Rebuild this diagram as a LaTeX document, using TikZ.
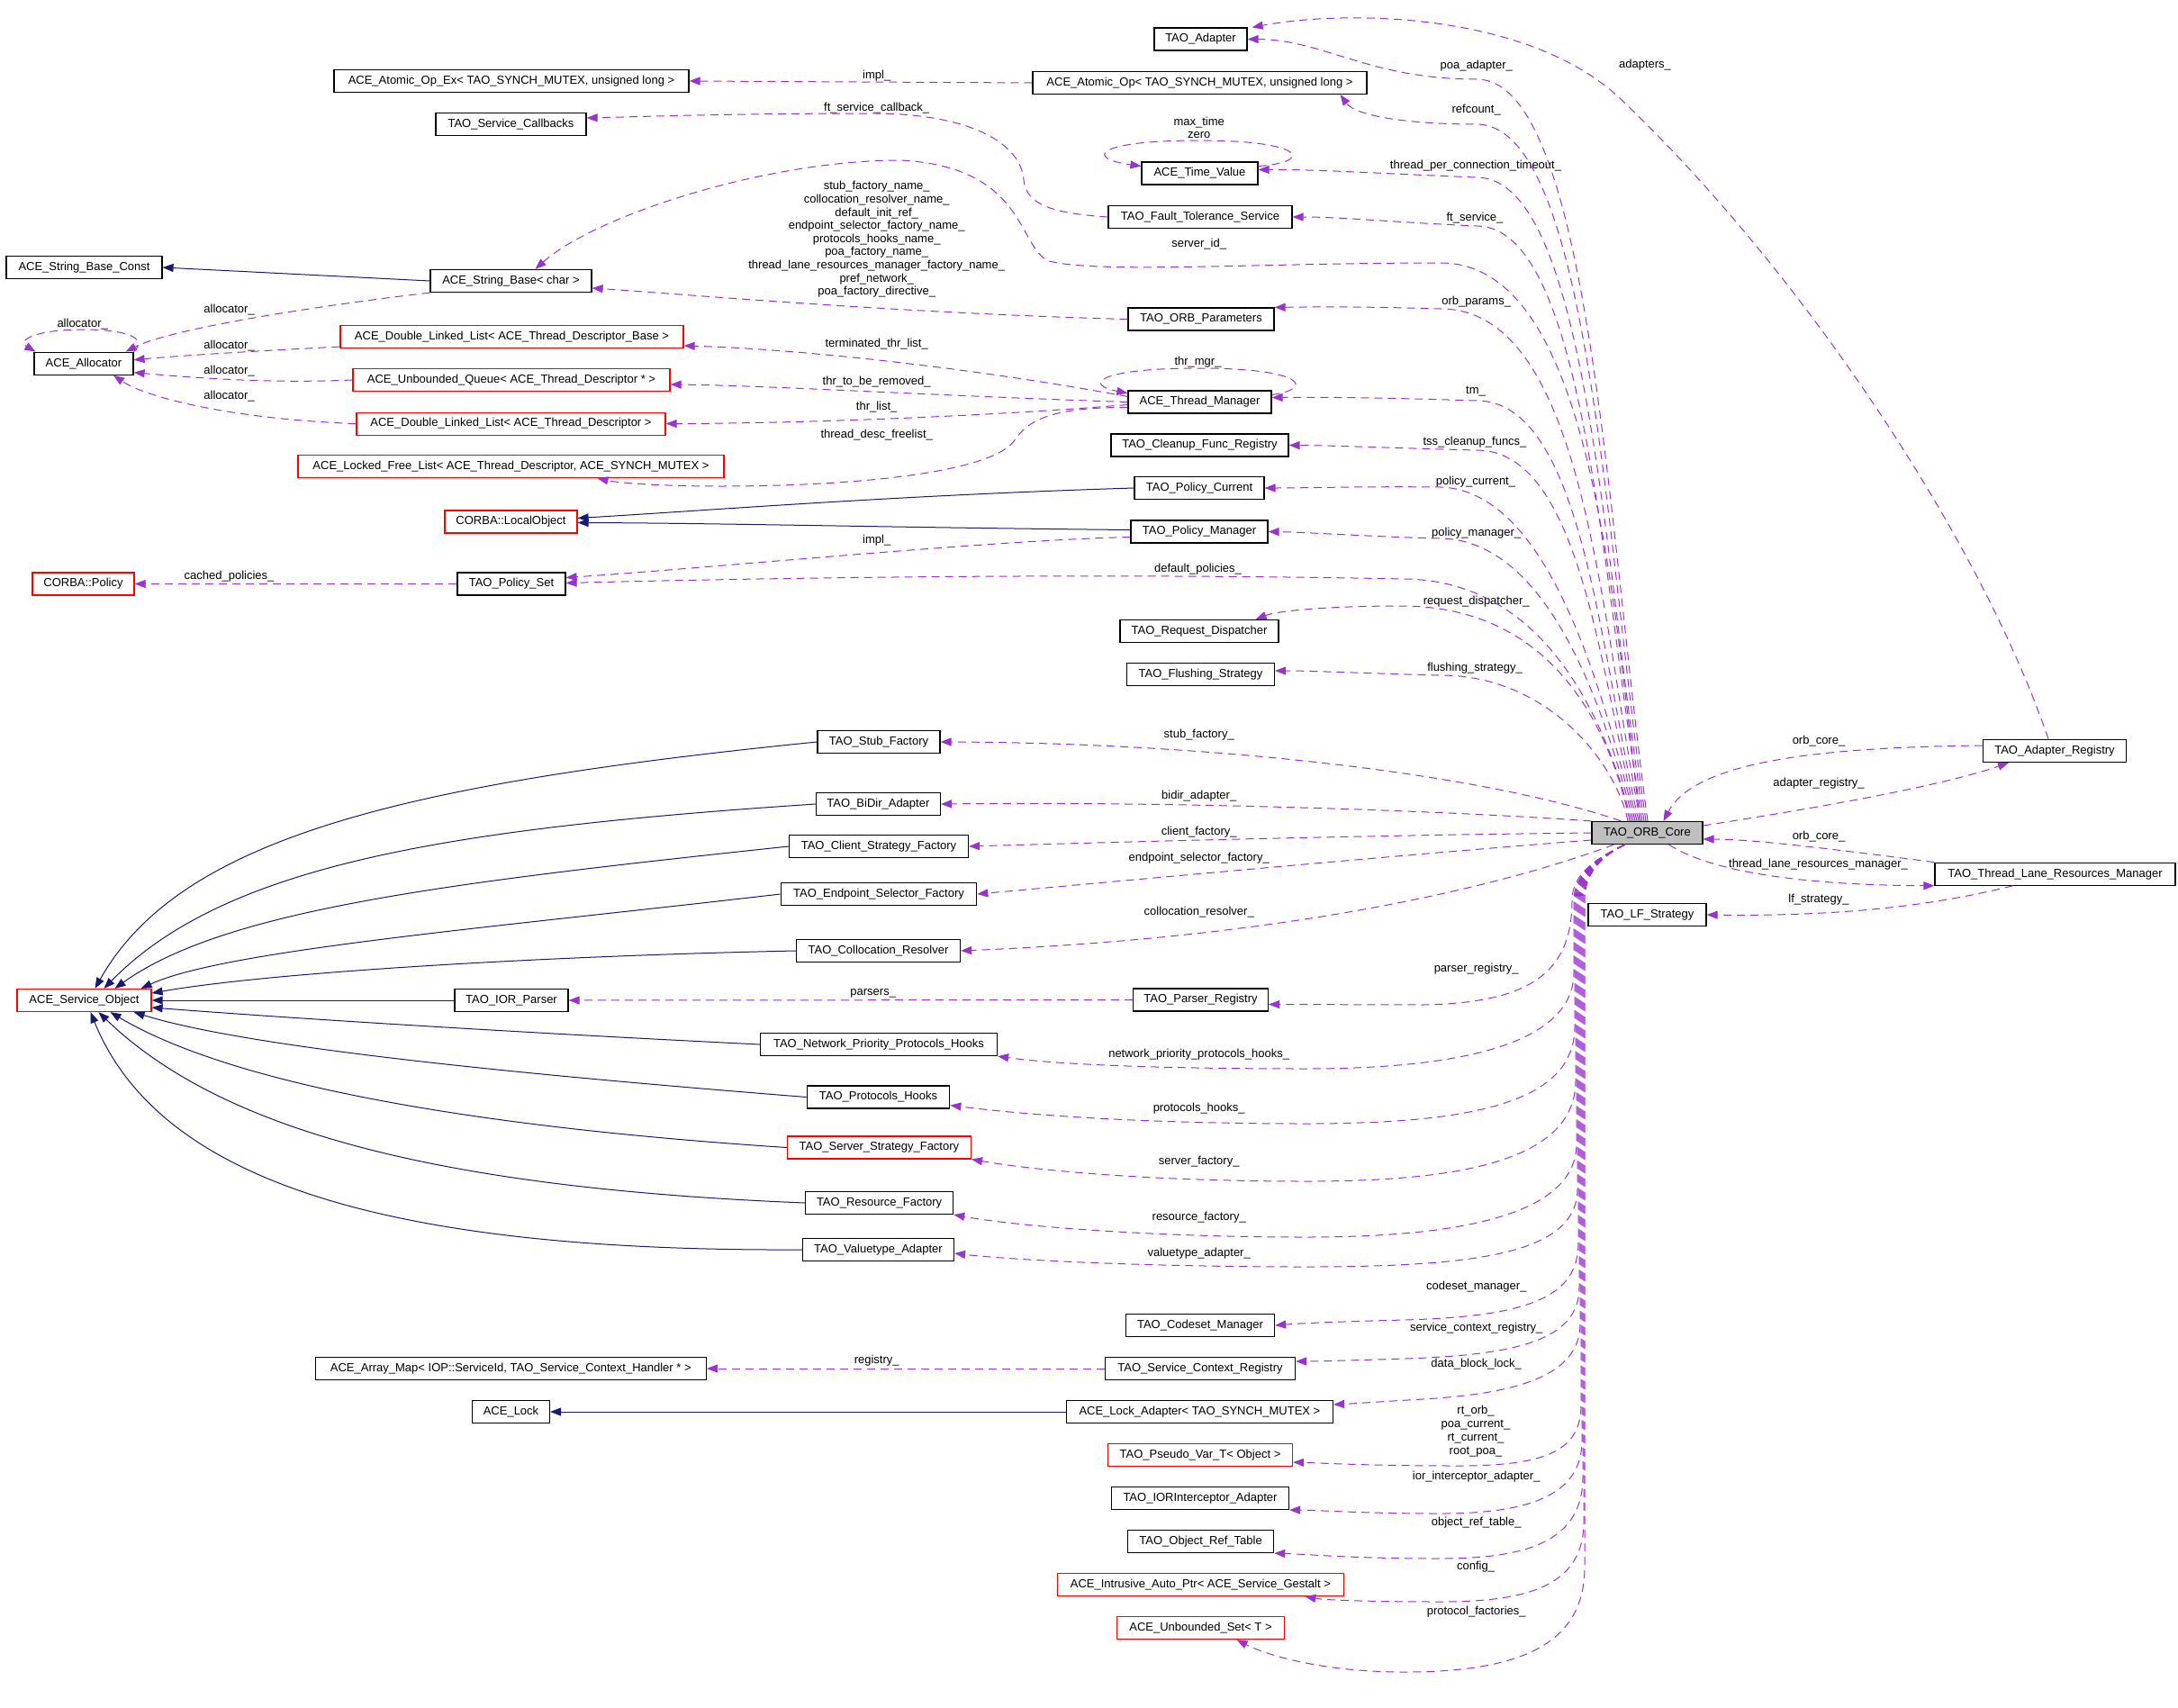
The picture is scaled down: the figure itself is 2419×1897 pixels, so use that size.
\documentclass[tikz,border=0pt]{standalone}
\usepackage{fontspec}
\setmainfont{Liberation Sans}
\usetikzlibrary{arrows.meta,calc}
\definecolor{dpurple}{RGB}{154,50,205}
\definecolor{navyblue}{RGB}{25,25,112}
\definecolor{grayfill}{RGB}{191,191,191}
\tikzset{
 box/.style={draw=black, line width=1.2pt, minimum height=25pt, inner xsep=3pt, inner ysep=0pt, fill=white},
 redbox/.style={box, draw=red},
 lbl/.style={inner sep=0pt, align=center},
 usesedge/.style={draw=dpurple, line width=1pt, dash pattern=on 9pt off 6pt, -{Triangle[length=12pt,width=9pt]}},
 inhedge/.style={draw=navyblue, line width=1pt, -{Triangle[length=12pt,width=9pt]}}
}
\begin{document}
\begin{tikzpicture}[x=1pt,y=-1pt,font=\fontsize{13}{14.6}\selectfont]
\path[use as bounding box, fill=white] (0,0) rectangle (2419,1897);
% ---------------- nodes
\node[box, minimum width=103pt] (adapter) at (1333.5,43.5) {TAO\_Adapter};
\node[box, minimum width=394pt] (atomicex) at (568,90) {ACE\_Atomic\_Op\_Ex< TAO\_SYNCH\_MUTEX, unsigned long >};
\node[box, minimum width=371pt] (atomic) at (1332.5,92) {ACE\_Atomic\_Op< TAO\_SYNCH\_MUTEX, unsigned long >};
\node[box, minimum width=167pt] (svccb) at (567.5,138) {TAO\_Service\_Callbacks};
\node[box, minimum width=129pt] (timeval) at (1332.5,192.5) {ACE\_Time\_Value};
\node[box, minimum width=204pt] (fts) at (1333,241) {TAO\_Fault\_Tolerance\_Service};
\node[box, minimum width=173pt] (sbconst) at (93.5,297) {ACE\_String\_Base\_Const};
\node[box, minimum width=179pt] (sbchar) at (567.5,312) {ACE\_String\_Base< char >};
\node[box, minimum width=162pt] (orbparams) at (1334,354.5) {TAO\_ORB\_Parameters};
\node[box, minimum width=110pt] (allocator) at (93,403.7) {ACE\_Allocator};
\node[redbox, minimum width=381pt] (dllbase) at (568.5,374) {ACE\_Double\_Linked\_List< ACE\_Thread\_Descriptor\_Base >};
\node[redbox, minimum width=352pt] (ubq) at (568,422) {ACE\_Unbounded\_Queue< ACE\_Thread\_Descriptor * >};
\node[box, minimum width=159pt] (thrmgr) at (1332.5,446.5) {ACE\_Thread\_Manager};
\node[redbox, minimum width=343pt] (dlldesc) at (567.5,470.6) {ACE\_Double\_Linked\_List< ACE\_Thread\_Descriptor >};
\node[box, minimum width=197pt] (cleanup) at (1332.5,494.5) {TAO\_Cleanup\_Func\_Registry};
\node[redbox, minimum width=473pt] (lfl) at (567.5,518) {ACE\_Locked\_Free\_List< ACE\_Thread\_Descriptor, ACE\_SYNCH\_MUTEX >};
\node[box, minimum width=144pt] (polcur) at (1332,542) {TAO\_Policy\_Current};
\node[redbox, minimum width=147pt] (localobj) at (567.5,579.5) {CORBA::LocalObject};
\node[box, minimum width=152pt] (polmgr) at (1332,590.5) {TAO\_Policy\_Manager};
\node[redbox, minimum width=113pt] (corbapol) at (92.5,648.5) {CORBA::Policy};
\node[box, minimum width=120pt] (polset) at (568,648.5) {TAO\_Policy\_Set};
\node[box, minimum width=176pt] (reqdisp) at (1332,701) {TAO\_Request\_Dispatcher};
\node[box, minimum width=164pt] (flush) at (1333.5,749) {TAO\_Flushing\_Strategy};
\node[box, minimum width=136pt] (stub) at (976,824) {TAO\_Stub\_Factory};
\node[box, minimum width=159pt] (adreg) at (2282,834) {TAO\_Adapter\_Registry};
\node[box, minimum width=138pt] (bidir) at (975.4,893) {TAO\_BiDir\_Adapter};
\node[box, fill=grayfill, minimum width=123pt] (core) at (1829.5,925) {TAO\_ORB\_Core};
\node[box, minimum width=199pt] (client) at (976,940) {TAO\_Client\_Strategy\_Factory};
\node[box, minimum width=267pt] (tlrm) at (2282.5,970.7) {TAO\_Thread\_Lane\_Resources\_Manager};
\node[box, minimum width=217.5pt] (endpoint) at (976,993) {TAO\_Endpoint\_Selector\_Factory};
\node[box, minimum width=131pt] (lf) at (1829.5,1016) {TAO\_LF\_Strategy};
\node[box, minimum width=182pt] (colloc) at (975.5,1056) {TAO\_Collocation\_Resolver};
\node[redbox, minimum width=149pt] (svcobj) at (93.5,1111) {ACE\_Service\_Object};
\node[box, minimum width=126pt] (iorparser) at (568,1111) {TAO\_IOR\_Parser};
\node[box, minimum width=150pt] (parsereg) at (1333.5,1110.5) {TAO\_Parser\_Registry};
\node[box, minimum width=263pt] (npph) at (976,1160) {TAO\_Network\_Priority\_Protocols\_Hooks};
\node[box, minimum width=158.5pt] (phooks) at (975.5,1218.5) {TAO\_Protocols\_Hooks};
\node[redbox, minimum width=204pt] (ssf) at (976.4,1274.5) {TAO\_Server\_Strategy\_Factory};
\node[box, minimum width=164pt] (resfac) at (976.6,1336) {TAO\_Resource\_Factory};
\node[box, minimum width=168pt] (vta) at (975.5,1388) {TAO\_Valuetype\_Adapter};
\node[box, minimum width=165pt] (codeset) at (1333,1472) {TAO\_Codeset\_Manager};
\node[box, minimum width=434pt] (arraymap) at (567.3,1520) {ACE\_Array\_Map< IOP::ServiceId, TAO\_Service\_Context\_Handler * >};
\node[box, minimum width=211pt] (scr) at (1333,1520) {TAO\_Service\_Context\_Registry};
\node[box, minimum width=86pt] (lock) at (567.5,1568) {ACE\_Lock};
\node[box, minimum width=296pt] (lockad) at (1332.4,1568) {ACE\_Lock\_Adapter< TAO\_SYNCH\_MUTEX >};
\node[redbox, minimum width=205pt] (pseudo) at (1333,1616) {TAO\_Pseudo\_Var\_T< Object >};
\node[box, minimum width=197pt] (iorint) at (1333,1664) {TAO\_IORInterceptor\_Adapter};
\node[box, minimum width=162pt] (objref) at (1333.6,1712) {TAO\_Object\_Ref\_Table};
\node[redbox, minimum width=318pt] (intrusive) at (1333.4,1760) {ACE\_Intrusive\_Auto\_Ptr< ACE\_Service\_Gestalt >};
\node[redbox, minimum width=186pt] (ubset) at (1333.5,1808) {ACE\_Unbounded\_Set< T >};
% ---------------- labels
\node[lbl] (t1) at (973.7,83.7) {impl\_};
\node[lbl] (t2) at (973.7,120.4) {ft\_service\_callback\_};
\node[lbl] (t3) at (973.7,266) {stub\_factory\_name\_\\collocation\_resolver\_name\_\\default\_init\_ref\_\\endpoint\_selector\_factory\_name\_\\protocols\_hooks\_name\_\\poa\_factory\_name\_\\thread\_lane\_resources\_manager\_factory\_name\_\\pref\_network\_\\poa\_factory\_directive\_};
\node[lbl] (t4) at (1639.7,72.7) {poa\_adapter\_};
\node[lbl] (t5) at (1639.7,122.4) {refcount\_};
\node[lbl] (t6) at (1331.7,142) {max\_time\\zero};
\node[lbl] (t7) at (1639,183.7) {thread\_per\_connection\_timeout\_};
\node[lbl] (t8) at (1638,242.4) {ft\_service\_};
\node[lbl] (t9) at (1331.7,271.4) {server\_id\_};
\node[lbl] (t10) at (1639.7,335.5) {orb\_params\_};
\node[lbl] (t11) at (91.7,359.6) {allocator\_};
\node[lbl] (t12) at (254.6,344) {allocator\_};
\node[lbl] (t13) at (254.6,383.7) {allocator\_};
\node[lbl] (t14) at (254.6,412) {allocator\_};
\node[lbl] (t15) at (254.6,439.6) {allocator\_};
\node[lbl] (t16) at (973.7,382.4) {terminated\_thr\_list\_};
\node[lbl] (t17) at (973.7,424.5) {thr\_to\_be\_removed\_};
\node[lbl] (t18) at (973.7,452) {thr\_list\_};
\node[lbl] (t19) at (973.7,483) {thread\_desc\_freelist\_};
\node[lbl] (t20) at (1330.5,402.4) {thr\_mgr\_};
\node[lbl] (t21) at (1639,435) {tm\_};
\node[lbl] (t22) at (1638,491.4) {tss\_cleanup\_funcs\_};
\node[lbl] (t23) at (1639,534.7) {policy\_current\_};
\node[lbl] (t24) at (1639.7,591.8) {policy\_manager\_};
\node[lbl] (t25) at (973.7,600.4) {impl\_};
\node[lbl] (t26) at (1330.5,632) {default\_policies\_};
\node[lbl] (t27) at (254.6,640.4) {cached\_policies\_};
\node[lbl] (t28) at (1639.7,668.6) {request\_dispatcher\_};
\node[lbl] (t29) at (1638,742.4) {flushing\_strategy\_};
\node[lbl] (t30) at (1827,72.4) {adapters\_};
\node[lbl] (t31) at (1331.7,816.3) {stub\_factory\_};
\node[lbl] (t32) at (2020,823.3) {orb\_core\_};
\node[lbl] (t33) at (2020,870.6) {adapter\_registry\_};
\node[lbl] (t34) at (1331.7,884.5) {bidir\_adapter\_};
\node[lbl] (t35) at (1331.7,924.5) {client\_factory\_};
\node[lbl] (t36) at (2020,928.6) {orb\_core\_};
\node[lbl] (t37) at (1331.7,952.7) {endpoint\_selector\_factory\_};
\node[lbl] (t38) at (2019.5,960.4) {thread\_lane\_resources\_manager\_};
\node[lbl] (t39) at (2020,999.6) {lf\_strategy\_};
\node[lbl] (t40) at (1331.7,1012.6) {collocation\_resolver\_};
\node[lbl] (t41) at (1639.7,1076) {parser\_registry\_};
\node[lbl] (t42) at (969.7,1102.9) {parsers\_};
\node[lbl] (t43) at (1331.7,1171.4) {network\_priority\_protocols\_hooks\_};
\node[lbl] (t44) at (1331.7,1231) {protocols\_hooks\_};
\node[lbl] (t45) at (1331.7,1290.4) {server\_factory\_};
\node[lbl] (t46) at (1331.7,1352.3) {resource\_factory\_};
\node[lbl] (t47) at (1331.7,1392.4) {valuetype\_adapter\_};
\node[lbl] (t48) at (1639.7,1428.7) {codeset\_manager\_};
\node[lbl] (t49) at (1639.7,1475.3) {service\_context\_registry\_};
\node[lbl] (t50) at (1639.7,1515.3) {data\_block\_lock\_};
\node[lbl] (t51) at (973.7,1510.8) {registry\_};
\node[lbl, font=\fontsize{13}{14.9}\selectfont] (t52) at (1639,1589.6) {rt\_orb\_\\poa\_current\_\\rt\_current\_\\root\_poa\_};
\node[lbl] (t53) at (1639.7,1640.3) {ior\_interceptor\_adapter\_};
\node[lbl] (t54) at (1639.7,1691.5) {object\_ref\_table\_};
\node[lbl] (t55) at (1639,1740.6) {config\_};
\node[lbl] (t56) at (1639.7,1790.5) {protocol\_factories\_};
% ---------------- inheritance
\draw[inhedge] (sbchar.west) -- (sbconst.east);
\draw[inhedge] (polcur.west) .. controls (1000,550) and (800,566) .. ($(localobj.east)+(0,-4)$);
\draw[inhedge] ($(polmgr.west)+(0,-2)$) .. controls (1000,586) and (800,581) .. ($(localobj.east)+(0,1)$);
\draw[inhedge] (lockad.west) -- (lock.east);
\draw[inhedge] (stub.west) .. controls (450,870) and (200,930) .. ($(svcobj.north)+(12,0)$);
\draw[inhedge] (bidir.west) .. controls (500,920) and (250,960) .. ($(svcobj.north)+(22,0)$);
\draw[inhedge] (client.west) .. controls (500,980) and (250,1010) .. ($(svcobj.north)+(34,0)$);
\draw[inhedge] (endpoint.west) .. controls (550,1030) and (250,1055) .. ($(svcobj.north east)+(-12,0)$);
\draw[inhedge] (colloc.west) .. controls (600,1062) and (300,1080) .. ($(svcobj.east)+(0,-8)$);
\draw[inhedge] (iorparser.west) -- (svcobj.east);
\draw[inhedge] (npph.west) .. controls (600,1148) and (350,1133) .. ($(svcobj.east)+(0,8)$);
\draw[inhedge] (phooks.west) .. controls (600,1195) and (280,1165) .. ($(svcobj.south east)+(-20,0)$);
\draw[inhedge] (ssf.west) .. controls (500,1250) and (250,1200) .. ($(svcobj.south)+(29,0)$);
\draw[inhedge] (resfac.west) .. controls (500,1320) and (250,1260) .. ($(svcobj.south)+(16,0)$);
\draw[inhedge] (vta.west) .. controls (450,1390) and (180,1320) .. ($(svcobj.south)+(7,0)$);
% ---------------- usage, left part
\draw[usesedge] (atomic.west) -- (atomicex.east);
\draw[usesedge] (fts.west) .. controls (1170,237) and (1140,228) .. (1137,200) .. controls (1134,160) and (1080,127) .. (973,126) .. controls (800,126) and (700,130) .. ($(svccb.east)+(0,-7)$);
\draw[usesedge] ($(timeval.east)+(0,-8)$) .. controls (1460,180) and (1450,156) .. (1332,156) .. controls (1215,156) and (1205,176) .. ($(timeval.west)+(0,-8)$);
\draw[usesedge] (orbparams.west) .. controls (1000,348) and (750,326) .. ($(sbchar.east)+(0,8)$);
\draw[usesedge] (sbchar.south west) .. controls (350,340) and (190,365) .. ($(allocator.north east)+(-9,0)$);
\draw[usesedge] (allocator.north east) .. controls (165,375) and (140,366) .. (92,366) .. controls (40,366) and (18,378) .. ($(allocator.north west)+(2,0)$);
\draw[usesedge] ($(dllbase.south west)+(0,-2)$) .. controls (280,390) and (200,395) .. ($(allocator.east)+(0,-4)$);
\draw[usesedge] (ubq.west) .. controls (300,426) and (220,420) .. ($(allocator.east)+(0,10)$);
\draw[usesedge] (dlldesc.west) .. controls (250,465) and (160,440) .. ($(allocator.south)+(33,0)$);
\draw[usesedge] ($(thrmgr.west)+(0,-6)$) .. controls (1100,412) and (900,388) .. ($(dllbase.east)+(0,10)$);
\draw[usesedge] (thrmgr.west) .. controls (1050,440) and (850,428) .. ($(ubq.east)+(0,5)$);
\draw[usesedge] ($(thrmgr.west)+(0,3)$) .. controls (1100,462) and (900,470) .. (dlldesc.east);
\draw[usesedge] ($(thrmgr.west)+(0,6)$) .. controls (1160,452) and (1140,470) .. (1126,490) .. controls (1100,525) and (950,540) .. (800,540) .. controls (720,540) and (680,535) .. ($(lfl.south)+(96,0)$);
\draw[usesedge] ($(thrmgr.east)+(0,-8)$) .. controls (1460,432) and (1450,409) .. (1332,409) .. controls (1215,409) and (1205,428) .. ($(thrmgr.west)+(0,-10)$);
\draw[usesedge] ($(polmgr.west)+(0,6)$) .. controls (1100,600) and (800,630) .. ($(polset.east)+(0,-7)$);
\draw[usesedge] (polset.west) -- (corbapol.east);
\draw[usesedge] (parsereg.west) -- (iorparser.east);
\draw[usesedge] (scr.west) -- (arraymap.east);
% ---------------- usage from core, upward
\draw[usesedge] ($(core.north)+(0.5,0)$) .. controls (1785,583) and (1765,88) .. (1640,88) .. controls (1520,88) and (1470,44) .. (adapter.east);
\draw[usesedge] ($(core.north)+(-1.5,0)$) .. controls (1783,603) and (1765,138) .. (1640,138) .. controls (1560,138) and (1505,128) .. ($(atomic.south)+(156,0)$);
\draw[usesedge] ($(core.north)+(-3.5,0)$) .. controls (1781,627) and (1763,197) .. (1640,197) .. controls (1540,193) and (1460,188) .. ($(timeval.east)+(0,-4)$);
\draw[usesedge] ($(core.north)+(-5.5,0)$) .. controls (1779,648) and (1761,251) .. (1640,251) .. controls (1550,247) and (1490,241) .. (fts.east);
\draw[usesedge] ($(core.north)+(-8,0)$) .. controls (1790,650) and (1765,292) .. (1600,292) .. controls (1400,292) and (1220,304) .. (1165,290) .. controls (1130,275) and (1140,185) .. (1000,178) .. controls (850,178) and (660,240) .. ($(sbchar.north)+(27,0)$);
\draw[usesedge] ($(core.north)+(-7.5,0)$) .. controls (1777,686) and (1760,343) .. (1600,343) .. controls (1500,340) and (1450,341) .. (orbparams.north east);
\draw[usesedge] ($(core.north)+(-9.5,0)$) .. controls (1777,726) and (1758,445) .. (1640,445) .. controls (1550,442) and (1480,441) .. ($(thrmgr.east)+(0,-5)$);
\draw[usesedge] ($(core.north)+(-11.5,0)$) .. controls (1777,748) and (1756,500) .. (1640,500) .. controls (1560,498) and (1490,495) .. (cleanup.east);
\draw[usesedge] ($(core.north)+(-13.5,0)$) .. controls (1780,766) and (1720,545) .. (1600,541) .. controls (1520,540) and (1450,542) .. (polcur.east);
\draw[usesedge] ($(core.north)+(-15.5,0)$) .. controls (1782,787) and (1720,600) .. (1600,598) .. controls (1520,596) and (1450,591) .. (polmgr.east);
\draw[usesedge] ($(core.north)+(-17.5,0)$) .. controls (1785,806) and (1720,645) .. (1560,643) .. controls (1200,636) and (850,642) .. ($(polset.east)+(0,-1)$);
\draw[usesedge] ($(core.north)+(-19.5,0)$) .. controls (1790,817) and (1730,673) .. (1556,673) .. controls (1480,673) and (1420,678) .. ($(reqdisp.north east)+(-26,0)$);
\draw[usesedge] ($(core.north)+(-21.5,0)$) .. controls (1795,848) and (1720,750) .. (1600,750) .. controls (1520,748) and (1460,745) .. ($(flush.east)+(0,-4)$);
% ---------------- usage from core, middle
\draw[usesedge] ($(core.north west)+(33,0)$) .. controls (1650,860) and (1350,825) .. (stub.east);
\draw[usesedge] (core.north west) .. controls (1600,900) and (1300,890) .. (bidir.east);
\draw[usesedge] (core.west) .. controls (1500,928) and (1250,935) .. (client.east);
\draw[usesedge] ($(core.west)+(0,8)$) .. controls (1550,950) and (1250,978) .. (endpoint.east);
\draw[usesedge] ($(core.south west)+(25,0)$) .. controls (1680,980) and (1450,1040) .. (colloc.east);
% ---------------- usage from core, downward
\draw[usesedge] ($(core.south)+(-25,0)$) .. controls (1785,948) and (1746,965) .. (1746,1000) .. controls (1746,1080) and (1700,1114) .. (1580,1116) -- ($(parsereg.east)+(0,5)$);
\draw[usesedge] ($(core.south)+(-25,0)$) .. controls (1785,948) and (1748,965) .. (1748,1000) -- (1748,1080) .. controls (1748,1150) and (1650,1187) .. (1450,1187) .. controls (1300,1187) and (1180,1183) .. (npph.south east);
\draw[usesedge] ($(core.south)+(-25,0)$) .. controls (1785,948) and (1749,965) .. (1749,1000) -- (1749,1140) .. controls (1749,1220) and (1650,1248) .. (1450,1248) .. controls (1250,1248) and (1120,1236) .. ($(phooks.east)+(0,9)$);
\draw[usesedge] ($(core.south)+(-25,0)$) .. controls (1785,948) and (1750,965) .. (1750,1000) -- (1750,1200) .. controls (1750,1290) and (1620,1312) .. (1450,1312) .. controls (1280,1312) and (1150,1300) .. (ssf.south east);
\draw[usesedge] ($(core.south)+(-25,0)$) .. controls (1785,948) and (1751,965) .. (1751,1000) -- (1751,1270) .. controls (1751,1350) and (1620,1374) .. (1450,1374) .. controls (1280,1374) and (1130,1362) .. (resfac.south east);
\draw[usesedge] ($(core.south)+(-25,0)$) .. controls (1785,948) and (1752,965) .. (1752,1000) -- (1752,1320) .. controls (1752,1390) and (1650,1407) .. (1450,1407) .. controls (1280,1407) and (1130,1400) .. ($(vta.east)+(0,4)$);
\draw[usesedge] ($(core.south)+(-25,0)$) .. controls (1785,948) and (1753,965) .. (1753,1000) -- (1753,1380) .. controls (1753,1440) and (1700,1462) .. (1560,1466) .. controls (1480,1468) and (1440,1470) .. (codeset.east);
\draw[usesedge] ($(core.south)+(-25,0)$) .. controls (1785,948) and (1754,965) .. (1754,1000) -- (1754,1430) .. controls (1754,1490) and (1680,1505) .. (1560,1509) .. controls (1500,1511) and (1460,1512) .. ($(scr.east)+(0,-8)$);
\draw[usesedge] ($(core.south)+(-25,0)$) .. controls (1785,948) and (1755,965) .. (1755,1000) -- (1755,1470) .. controls (1755,1530) and (1680,1548) .. (1580,1554) .. controls (1530,1557) and (1500,1559) .. ($(lockad.east)+(0,-8)$);
\draw[usesedge] ($(core.south)+(-25,0)$) .. controls (1785,948) and (1756,965) .. (1756,1000) -- (1756,1560) .. controls (1756,1610) and (1720,1628) .. (1620,1628) .. controls (1520,1628) and (1470,1625) .. ($(pseudo.east)+(0,8)$);
\draw[usesedge] ($(core.south)+(-25,0)$) .. controls (1785,948) and (1757,965) .. (1757,1000) -- (1757,1600) .. controls (1757,1660) and (1700,1681) .. (1600,1681) .. controls (1510,1681) and (1460,1677) .. (iorint.south east);
\draw[usesedge] ($(core.south)+(-25,0)$) .. controls (1785,948) and (1758,965) .. (1758,1000) -- (1758,1640) .. controls (1758,1710) and (1700,1731) .. (1600,1731) .. controls (1500,1731) and (1450,1726) .. (objref.south east);
\draw[usesedge] ($(core.south)+(-25,0)$) .. controls (1785,948) and (1759,965) .. (1759,1000) -- (1759,1690) .. controls (1759,1760) and (1700,1779) .. (1600,1779) .. controls (1520,1779) and (1470,1777) .. ($(intrusive.south)+(116,0)$);
\draw[usesedge] ($(core.south)+(-25,0)$) .. controls (1785,948) and (1760,965) .. (1760,1000) -- (1760,1740) .. controls (1760,1820) and (1700,1857) .. (1560,1857) .. controls (1460,1857) and (1400,1835) .. ($(ubset.south)+(40,0)$);
% ---------------- right part
\draw[usesedge] ($(adreg.west)+(0,-6)$) .. controls (2000,830) and (1880,850) .. ($(core.north)+(18,0)$);
\draw[usesedge] ($(core.east)+(0,-8)$) .. controls (2000,900) and (2150,875) .. ($(adreg.south)+(-51,0)$);
\draw[usesedge] (tlrm.north west) .. controls (2050,945) and (1950,932) .. ($(core.east)+(0,7)$);
\draw[usesedge] ($(core.south)+(24,0)$) .. controls (1900,968) and (2000,983) .. (tlrm.south west);
\draw[usesedge] ($(tlrm.south)+(-47,0)$) .. controls (2150,1005) and (2050,1018) .. (lf.east);
\draw[usesedge] ($(adreg.north)+(-7,0)$) .. controls (2200,600) and (2000,300) .. (1800,110) .. controls (1700,15) and (1500,10) .. ($(adapter.north east)+(5,0)$);
\end{tikzpicture}
\end{document}
